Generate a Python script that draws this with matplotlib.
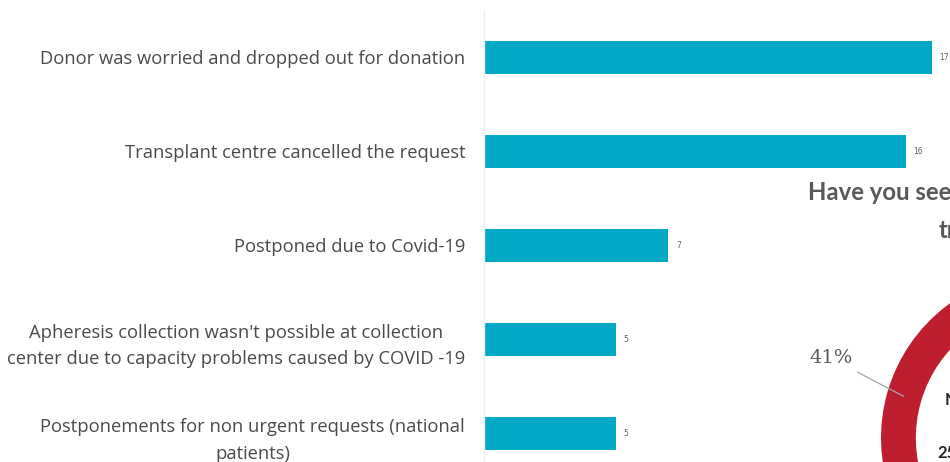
import matplotlib
matplotlib.use("Agg")
import matplotlib.pyplot as plt
import numpy as np

# ---- data ----
categories = [
    "Donor was worried and dropped out for donation",
    "Transplant centre cancelled the request",
    "Postponed due to Covid-19",
    "Apheresis collection wasn't possible at collection\ncenter due to capacity problems caused by COVID -19",
    "Postponements for non urgent requests (national\npatients)",
]
values = [17, 16, 7, 5, 5]

donut_values = [41, 59]
donut_labels = ["41%", ""]
donut_title_lines = ["Have you seen a decrease in", "transplants?"]
donut_inner = ["No", "25"]

W, H = 950, 462
fig = plt.figure(figsize=(W / 100, H / 100), dpi=100)
fig.patch.set_facecolor("white")

def fx(px):
    return px / W

def fy(py):
    return 1 - py / H

# ---- bar chart ----
ax_top, ax_bot = 10, 481
ax = fig.add_axes([fx(484), fy(ax_bot), fx(18 * 26.35), (ax_bot - ax_top) / H])
y = np.arange(len(categories))
bars = ax.barh(y, values, height=0.35, color="#02A9C7", zorder=2)
ax.set_ylim(len(categories) - 0.5, -0.5)
ax.set_xlim(0, 18)
for s in ["top", "right", "bottom"]:
    ax.spines[s].set_visible(False)
ax.spines["left"].set_color("#EDEDED")
ax.spines["left"].set_linewidth(1.0)
ax.set_xticks([])
ax.set_yticks(y)
ax.set_yticklabels(categories, fontsize=13.2, color="#4A4A4A", family="Open Sans",
                   multialignment="center", linespacing=1.62)
ax.tick_params(axis="y", length=0, pad=13.5)
ax.bar_label(bars, labels=[str(v) for v in values], padding=5.5, fontsize=5.5,
             color="#606060")
ax.set_facecolor("none")

# ---- donut (cropped at right edge) ----
cx, cy, R = 1047, 438, 166
pax = fig.add_axes([fx(cx - R), fy(cy + R), 2 * R / W, 2 * R / H])
wedges, _ = pax.pie(donut_values, colors=["#BE1E2D", "#A6A6A6"], startangle=90,
                    counterclock=True, radius=1.0,
                    wedgeprops=dict(width=0.21, edgecolor="white", linewidth=0))
pax.set_xlim(-1, 1)
pax.set_ylim(-1, 1)
pax.set_axis_off()

w0 = wedges[0]
mid = np.deg2rad((w0.theta1 + w0.theta2) / 2)
pax.annotate(donut_labels[0], xy=(0.9 * np.cos(mid), 0.9 * np.sin(mid)),
             xytext=(-1.169, 0.48), ha="right", va="center",
             fontsize=14, color="#595959", family="DejaVu Serif",
             arrowprops=dict(arrowstyle="-", color="#A6A6A6", lw=0.9,
                             shrinkA=3, shrinkB=0))

pax.text(-0.614, 0.229, donut_inner[0], ha="left", va="center", fontsize=12,
         fontweight="bold", color="#262626", family="Lato")
pax.text(-0.663, -0.09, donut_inner[1], ha="left", va="center", fontsize=12,
         fontweight="bold", color="#262626", family="Lato")

fig.text(fx(808), fy(193), donut_title_lines[0], ha="left", va="center",
         fontsize=17.2, fontweight="bold", color="#595959", family="Lato")
fig.text(fx(939), fy(230), donut_title_lines[1], ha="left", va="center",
         fontsize=17.2, fontweight="bold", color="#595959", family="Lato")

fig.savefig("out.png", dpi=100, facecolor="white")
